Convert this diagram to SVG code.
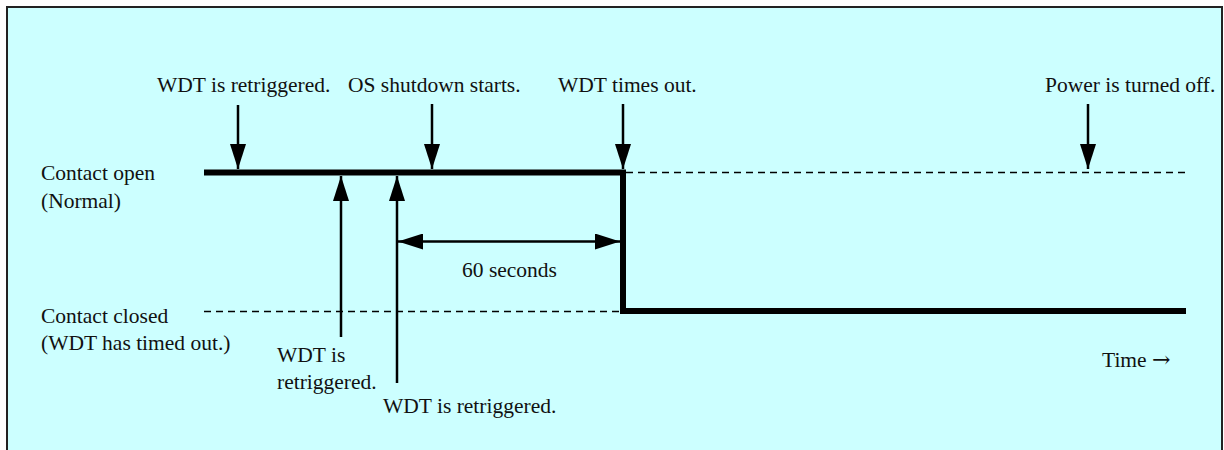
<svg xmlns="http://www.w3.org/2000/svg" width="1224" height="450" viewBox="0 0 1224 450">
<defs>
<style>
text{font-family:"Liberation Serif","Times New Roman",serif;font-size:21.5px;fill:#111}
.sig{stroke:#000;stroke-width:6;fill:none;stroke-linecap:butt}
.dash{stroke:#000;stroke-width:1.6;stroke-dasharray:7,5;fill:none}
.arr{stroke:#000;stroke-width:2.5;fill:none}
</style>
<marker id="ah" viewBox="0 0 25 16" refX="25" refY="8" markerWidth="25" markerHeight="16" markerUnits="userSpaceOnUse" orient="auto-start-reverse">
<path d="M0,0 L25,8 L0,16 Z" fill="#000"/>
</marker>
</defs>
<rect x="7" y="7" width="1215" height="460" fill="#CCFFFF" stroke="#222" stroke-width="2"/>

<g id="labels-left">
<text x="41" y="180">Contact open</text>
<text x="41" y="208">(Normal)</text>
<text x="41" y="323">Contact closed</text>
<text x="41" y="350">(WDT has timed out.)</text>
</g>

<g id="signal">
<path class="dash" d="M626,172.5 H1186"/>
<path class="dash" d="M204,311.5 H620"/>
<path class="sig" d="M204,172.5 H623 V311 H1186"/>
</g>

<g id="connectors">
<line class="arr" x1="238" y1="105" x2="238" y2="169" marker-end="url(#ah)"/>
<line class="arr" x1="432" y1="104" x2="432" y2="169" marker-end="url(#ah)"/>
<line class="arr" x1="623" y1="104" x2="623" y2="169" marker-end="url(#ah)"/>
<line class="arr" x1="1088" y1="104" x2="1088" y2="169" marker-end="url(#ah)"/>
<line class="arr" x1="341" y1="337" x2="341" y2="176" marker-end="url(#ah)"/>
<line class="arr" x1="397" y1="383" x2="397" y2="176" marker-end="url(#ah)"/>
<line class="arr" x1="398" y1="241.5" x2="620" y2="241.5" marker-start="url(#ah)" marker-end="url(#ah)"/>
</g>

<g id="event-wdt-retrig-1"><text x="157" y="92">WDT is retriggered.</text></g>
<g id="event-os-shutdown"><text x="348" y="92">OS shutdown starts.</text></g>
<g id="event-wdt-timeout"><text x="558" y="92">WDT times out.</text></g>
<g id="event-power-off"><text x="1045" y="92">Power is turned off.</text></g>
<g id="event-wdt-retrig-2"><text x="277" y="362">WDT is</text><text x="277" y="389">retriggered.</text></g>
<g id="event-wdt-retrig-3"><text x="383" y="413">WDT is retriggered.</text></g>
<g id="duration"><text x="462" y="277">60 seconds</text></g>
<g id="time-axis"><text x="1102" y="367">Time <tspan style="font-family:'DejaVu Serif','Liberation Serif',serif;font-size:22px">→</tspan></text></g>
</svg>
